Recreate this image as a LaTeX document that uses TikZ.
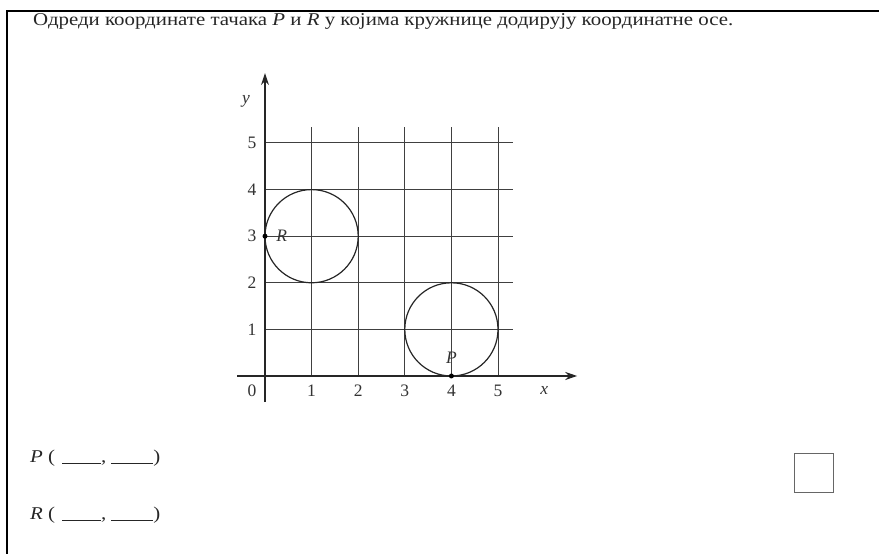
\documentclass[tikz,border=0pt]{standalone}
\usepackage{fontspec}
\setmainfont{Liberation Serif}
\newfontfamily\widefont[FakeStretch=1.16]{Liberation Serif}
\usetikzlibrary{arrows.meta}
\tikzset{
  txt/.style={font=\widefont\fontsize{18}{20}\selectfont, text=black!85, inner sep=0pt},
  lbl/.style={font=\fontsize{17.5}{20}\selectfont, text=black!80, inner sep=0pt},
  ilbl/.style={font=\fontsize{17.5}{20}\selectfont\itshape, text=black!80, inner sep=0pt},
  gridline/.style={draw=black!75, line width=1pt},
  axisline/.style={draw=black!85, line width=1.1pt},
  circ/.style={draw=black!85, line width=1.2pt},
  dotpt/.style={circle, fill=black, inner sep=0pt, minimum size=5pt}
}
\newcommand{\blankline}[1]{\rule[-1pt]{#1}{0.7pt}}
\begin{document}
\begin{tikzpicture}[x=1pt,y=1pt]
\useasboundingbox (0,0) rectangle (879,554);
% frame
\coordinate (fb) at (6.5,0);
\coordinate (fc) at (6.5,543);
\coordinate (fr) at (879,543);
\draw[line width=2pt] (fb) -- (fc) -- (fr);
% title
\node[txt, anchor=base west] (title) at (33,528) {Одреди координате тачака \textit{P} и \textit{R} у којима кружнице додирују координатне осе.};
% graph
\begin{scope}[shift={(265,178)}, x=46.6pt, y=46.6pt]
  \foreach \i in {1,...,5} {
    \draw[gridline] (\i,0) -- (\i,5.34);
    \draw[gridline] (0,\i) -- (5.32,\i);
  }
  \coordinate (xs) at (-0.6,0);
  \coordinate (xe) at (6.7,0);
  \coordinate (ys) at (0,-0.56);
  \coordinate (ye) at (0,6.5);
  \draw[axisline, -{Stealth[length=12pt, width=8pt]}] (xs) -- (xe);
  \draw[axisline, -{Stealth[length=12pt, width=8pt]}] (ys) -- (ye);
  \draw[circ] (1,3) circle (1);
  \draw[circ] (4,1) circle (1);
  \node[dotpt] (R) at (0,3) {};
  \node[dotpt] (P) at (4,0) {};
  \node[ilbl] (Rl) at (0.36,3) {R};
  \node[ilbl] (Pl) at (4,0.39) {P};
  \node[lbl] (n0) at (-0.28,-0.32) {0};
  \foreach \i in {1,...,5} {
    \node[lbl] (nx\i) at (\i,-0.32) {\i};
    \node[lbl] (ny\i) at (-0.28,\i) {\i};
  }
  \node[ilbl] (xl) at (5.99,-0.32) {x};
  \node[ilbl] (yl) at (-0.41,5.9) {y};
\end{scope}
% answers
\node[txt, anchor=base west] (pa) at (30,91) {\textit{P} (\hspace{7pt}\blankline{39pt},\hspace{5pt}\blankline{42pt})};
\node[txt, anchor=base west] (ra) at (30,34) {\textit{R} (\hspace{7pt}\blankline{39pt},\hspace{5pt}\blankline{42pt})};
% box
\node[draw=black!60, line width=1.3pt, minimum width=39pt, minimum height=39pt, inner sep=0pt] (box) at (814,81) {};
\end{tikzpicture}
\end{document}
